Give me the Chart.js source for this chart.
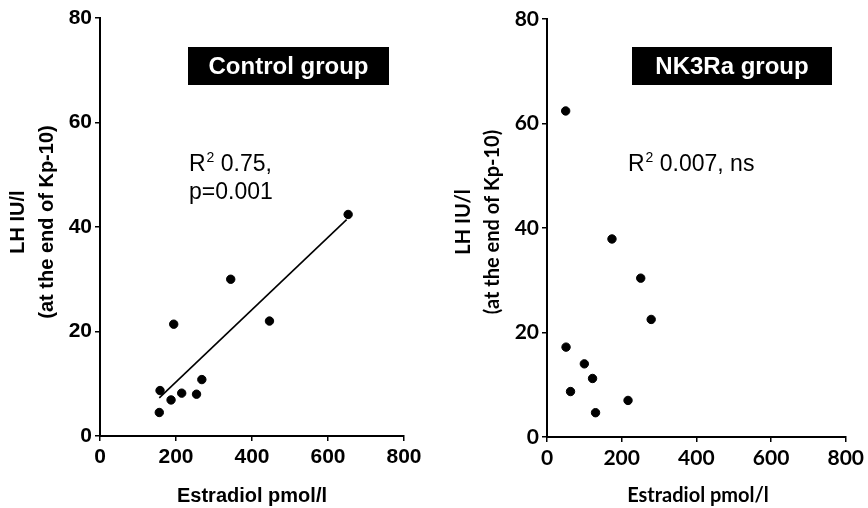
<!DOCTYPE html>
<html lang="en">

<head>
    <meta charset="UTF-8">
    <title>LH vs Estradiol</title>
    <script src="https://cdn.jsdelivr.net/npm/chart.js"></script>
    <style>
        body { margin: 0; background: white; }
        .painel { position: absolute; top: 0; width: 434px; height: 508px; }
        #painel_controle { left: 0; }
        #painel_nk3 { left: 434px; }
    </style>
</head>

<body>
    <div class="painel" id="painel_controle"><canvas id="grafico_controle" width="434" height="508"></canvas></div>
    <div class="painel" id="painel_nk3"><canvas id="grafico_nk3" width="434" height="508"></canvas></div>

<script>
    // valores
    const ticksX = [0, 200, 400, 600, 800];
    const ticksY = [0, 20, 40, 60, 80];

    const controleEstradiol = [156, 158, 187, 215, 254, 268, 194, 344, 446, 653];
    const controleLH = [4.5, 8.7, 6.9, 8.2, 8.0, 10.8, 21.4, 30.0, 22.0, 42.4];
    const retaEstradiol = [156, 649];
    const retaLH = [7.3, 41.4];

    const nk3Estradiol = [50, 174, 251, 279, 51, 100, 122, 63, 217, 130];
    const nk3LH = [62.4, 37.9, 30.4, 22.5, 17.2, 14.0, 11.2, 8.7, 7.0, 4.65];

    const tituloX = 'Estradiol pmol/l';
    const tituloY = ['LH IU/l', '(at the end of Kp-10)'];

    function pontos(xs, ys) {
        let lista = [];
        for (let i = 0; i < xs.length; i++) {
            lista.push({ x: xs[i], y: ys[i] });
        }
        return lista;
    }

    // caixas pretas, R2 e titulos dos eixos
    const textos = {
        id: 'textos',
        afterDraw(chart, args, opts) {
            const ctx = chart.ctx;
            ctx.save();

            // caixa do grupo
            ctx.fillStyle = 'black';
            ctx.fillRect(opts.caixa[0], 47, opts.caixa[1] - opts.caixa[0], 38);
            ctx.fillStyle = 'white';
            ctx.font = 'bold 24px ' + opts.fonteCaixa;
            ctx.textAlign = 'center';
            ctx.textBaseline = 'middle';
            ctx.fillText(opts.grupo, (opts.caixa[0] + opts.caixa[1]) / 2, 67);

            // R2
            ctx.fillStyle = 'black';
            ctx.textAlign = 'left';
            ctx.textBaseline = 'alphabetic';
            let x = opts.r2x;
            ctx.font = '23px "Liberation Sans", Arial';
            ctx.fillText('R', x, 171);
            x += ctx.measureText('R').width + 1;
            ctx.font = '14px "Liberation Sans", Arial';
            ctx.fillText('2', x, 162);
            x += ctx.measureText('2').width;
            ctx.font = '23px "Liberation Sans", Arial';
            ctx.fillText(opts.r2, x, 171);
            if (opts.p) {
                ctx.fillText(opts.p, opts.r2x, 199);
            }

            // titulo x
            ctx.font = 'bold 20px ' + opts.fonteEixo;
            ctx.textAlign = 'center';
            ctx.textBaseline = 'middle';
            ctx.fillText(tituloX, opts.tituloXx, 496);

            // titulo y (duas linhas)
            ctx.translate(opts.tituloYx, 222);
            ctx.rotate(-Math.PI / 2);
            ctx.fillText(tituloY[0], 0, 0);
            ctx.fillText(tituloY[1], 0, 29);
            ctx.restore();
        }
    };

    function escalas(fonte, tamanho, larguraY, alturaX) {
        const eixo = {
            grid: {
                drawOnChartArea: false,
                color: 'black',
                lineWidth: 1.5,
                tickLength: 5
            },
            border: { color: 'black', width: 2 },
            ticks: {
                color: 'black',
                font: { family: fonte, size: tamanho, weight: 'bold' }
            }
        };
        return {
            x: {
                ...eixo,
                type: 'linear',
                min: ticksX[0],
                max: ticksX[ticksX.length - 1],
                afterBuildTicks: (s) => { s.ticks = ticksX.map(v => ({ value: v })); },
                ticks: { ...eixo.ticks, padding: 4 },
                afterFit: (s) => { s.height = alturaX; }
            },
            y: {
                ...eixo,
                min: ticksY[0],
                max: ticksY[ticksY.length - 1],
                afterBuildTicks: (s) => { s.ticks = ticksY.map(v => ({ value: v })); },
                ticks: { ...eixo.ticks, padding: 3 },
                afterFit: (s) => { s.width = larguraY; }
            }
        };
    }

    new Chart(document.getElementById('grafico_controle'), {
        type: 'scatter',
        data: {
            datasets: [{
                data: pontos(controleEstradiol, controleLH),
                backgroundColor: 'black',
                borderColor: 'black',
                pointRadius: 4.2
            }, {
                type: 'line',
                data: pontos(retaEstradiol, retaLH),
                borderColor: 'black',
                borderWidth: 1.6,
                pointRadius: 0,
                fill: false
            }]
        },
        options: {
            responsive: false,
            animation: false,
            layout: { padding: { top: 18, right: 30, left: 0, bottom: 0 } },
            plugins: {
                legend: { display: false },
                tooltip: { enabled: false },
                textos: {
                    caixa: [188, 389],
                    grupo: 'Control group',
                    fonteCaixa: '"Liberation Sans", Arial',
                    fonteEixo: '"Liberation Sans", Arial',
                    r2x: 189,
                    r2: ' 0.75,',
                    p: 'p=0.001',
                    tituloXx: 252,
                    tituloYx: 18
                }
            },
            scales: escalas('"Liberation Sans", Arial', 21, 100, 72)
        },
        plugins: [textos]
    });

    new Chart(document.getElementById('grafico_nk3'), {
        type: 'scatter',
        data: {
            datasets: [{
                data: pontos(nk3Estradiol, nk3LH),
                backgroundColor: 'black',
                borderColor: 'black',
                pointRadius: 4.2
            }]
        },
        options: {
            responsive: false,
            animation: false,
            layout: { padding: { top: 19, right: 17, left: 0, bottom: 0 } },
            plugins: {
                legend: { display: false },
                tooltip: { enabled: false },
                textos: {
                    caixa: [198, 398],
                    grupo: 'NK3Ra group',
                    fonteCaixa: '"Liberation Sans", Arial',
                    fonteEixo: 'Lato',
                    r2x: 194,
                    r2: ' 0.007, ns',
                    p: null,
                    tituloXx: 264,
                    tituloYx: 30
                }
            },
            scales: escalas('Lato', 21, 113, 71)
        },
        plugins: [textos]
    });
</script>
</body>

</html>
